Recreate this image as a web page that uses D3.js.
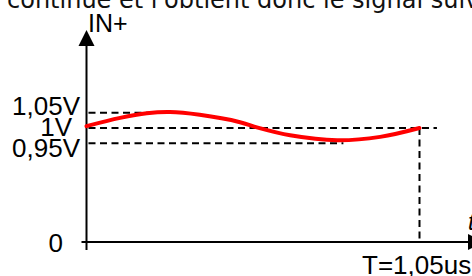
<!DOCTYPE html>
<html>
<head>
<meta charset="utf-8">
<script src="https://cdn.jsdelivr.net/npm/d3@7"></script>
<style>
  body { margin: 0; background: #fff; overflow: hidden; }
  svg { display: block; }
</style>
</head>
<body>
<div id="chart"></div>
<script>
// signal (time in us, level in V)
var timeValues = [0, 0.106, 0.19, 0.263, 0.357, 0.484, 0.54, 0.642, 0.79, 0.926, 1.05];
var signalValues = [1.006, 1.033, 1.048, 1.052, 1.043, 1.019, 1.001, 0.976, 0.960, 0.971, 1.0];

// reference levels and how far their dashed lines run (us)
var levelValues = [1.05, 1, 0.95];
var levelLabels = ["1,05V", "1V", "0,95V"];
var levelEnds = [0.27, 1.105, 0.81];

var period = 1.05;
var periodLabel = "T=1,05us";
var zeroLabel = "0";
var yTitle = "IN+";
var xTitle = "t";
var topText = "continue et l'obtient donc le signal suivant :";

var svgWidth = 472;
var svgHeight = 276;

var svg = d3.select("#chart")
  .append("svg")
  .attr("width", svgWidth)
  .attr("height", svgHeight);

// broken axis: 0 at the bottom, then the zoomed 0.95..1.05 band
var xScale = d3.scaleLinear()
  .domain([0, period])
  .range([86.5, 419.5]);

var yScale = d3.scaleLinear()
  .domain([0, 0.95, 1.05])
  .range([242, 143.3, 112.7]);

var x0 = xScale(0);
var y0 = yScale(0);

// text line cut by the top of the picture
svg.append("text")
  .attr("x", 7)
  .attr("y", 8)
  .attr("font-family", "DejaVu Sans")
  .attr("font-size", "24px")
  .attr("fill", "#111")
  .text(topText);

// dashed reference levels
svg.selectAll(".level")
  .data(levelValues)
  .enter()
  .append("line")
  .attr("class", "level")
  .attr("x1", x0 + 2)
  .attr("x2", (d, i) => xScale(levelEnds[i]))
  .attr("y1", d => yScale(d))
  .attr("y2", d => yScale(d))
  .attr("stroke", "#000")
  .attr("stroke-width", 2)
  .attr("stroke-dasharray", "7,4.5");

// period marker
svg.append("line")
  .attr("x1", xScale(period))
  .attr("x2", xScale(period))
  .attr("y1", yScale(1))
  .attr("y2", y0)
  .attr("stroke", "#000")
  .attr("stroke-width", 2)
  .attr("stroke-dasharray", "7,4.5");

// axes with arrow heads
svg.append("line")
  .attr("x1", x0).attr("x2", x0)
  .attr("y1", y0 + 8).attr("y2", 44)
  .attr("stroke", "#000")
  .attr("stroke-width", 2);

svg.append("path")
  .attr("d", `M${x0},30 L${x0 - 8},46 L${x0 + 8},46 Z`)
  .attr("fill", "#000");

svg.append("line")
  .attr("x1", x0 - 5).attr("x2", 468)
  .attr("y1", y0).attr("y2", y0)
  .attr("stroke", "#000")
  .attr("stroke-width", 2);

svg.append("path")
  .attr("d", `M484,${y0} L468,${y0 - 8} L468,${y0 + 8} Z`)
  .attr("fill", "#000");

// the signal
var signalData = timeValues.map((t, i) => ({ t: t, v: signalValues[i] }));

var line = d3.line()
  .x(d => xScale(d.t))
  .y(d => yScale(d.v))
  .curve(d3.curveCatmullRom);

svg.append("path")
  .datum(signalData)
  .attr("d", line)
  .attr("fill", "none")
  .attr("stroke", "#f00")
  .attr("stroke-width", 4)
  .attr("stroke-linecap", "round");

// labels
var labelFont = "Liberation Sans, Arial, sans-serif";

svg.selectAll(".levelLabel")
  .data(levelLabels)
  .enter()
  .append("text")
  .attr("class", "levelLabel")
  .attr("x", (d, i) => i == 1 ? 72 : 80)
  .attr("y", (d, i) => yScale(levelValues[i]) + [2, 8, 14][i])
  .attr("text-anchor", "end")
  .attr("font-family", labelFont)
  .attr("font-size", "26px")
  .text(d => d);

svg.append("text")
  .attr("x", 63)
  .attr("y", y0 + 10)
  .attr("text-anchor", "end")
  .attr("font-family", labelFont)
  .attr("font-size", "26px")
  .text(zeroLabel);

svg.append("text")
  .attr("x", 88)
  .attr("y", 32)
  .attr("font-family", labelFont)
  .attr("font-size", "25px")
  .text(yTitle);

svg.append("text")
  .attr("x", 362)
  .attr("y", 274)
  .attr("font-family", labelFont)
  .attr("font-size", "26px")
  .text(periodLabel);

svg.append("text")
  .attr("x", 468)
  .attr("y", 230)
  .attr("font-family", labelFont)
  .attr("font-size", "24px")
  .attr("font-style", "italic")
  .text(xTitle);
</script>
</body>
</html>
